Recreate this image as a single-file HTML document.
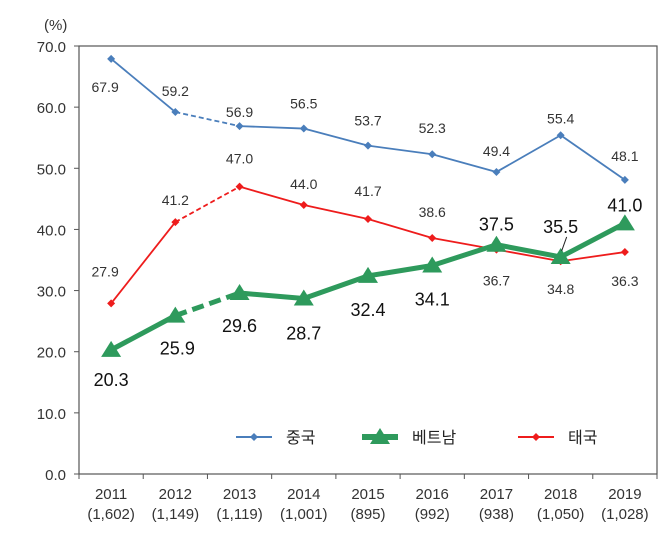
<!DOCTYPE html>
<html><head><meta charset="utf-8"><style>
body{margin:0;background:#fff;}
svg text{font-family:"Liberation Sans","Noto Sans CJK KR",sans-serif;}
</style></head><body>
<svg width="670" height="533" xmlns="http://www.w3.org/2000/svg">
<g id="axes"></g><g id="marks"></g><g id="labels"></g>
</svg>
<script>
const years=["2011","2012","2013","2014","2015","2016","2017","2018","2019"];
const counts=["(1,602)","(1,149)","(1,119)","(1,001)","(895)","(992)","(938)","(1,050)","(1,028)"];
const yTicks=[0,10,20,30,40,50,60,70];
const china=[67.9,59.2,56.9,56.5,53.7,52.3,49.4,55.4,48.1];
const vietnam=[20.3,25.9,29.6,28.7,32.4,34.1,37.5,35.5,41.0];
const thailand=[27.9,41.2,47.0,44.0,41.7,38.6,36.7,34.8,36.3];
const chinaOff=[[-6,27],[0,-22],[0,-15],[0,-26],[0,-26],[0,-27],[0,-22],[0,-18],[0,-25]];
const thaiOff=[[-6,-33],[0,-23],[0,-29],[0,-22],[0,-29],[0,-27],[0,30],[0,27],[0,28]];
const vietOff=[[0,30],[2,33],[0,33],[0,35],[0,34],[0,34],[0,-20],[0,-30],[0,-18]];
const NS="http://www.w3.org/2000/svg";
const L=79,R=657,T=46,B=474;
const step=(R-L)/years.length;
const x=i=>L+step*(i+0.5);
const y=v=>B-(v/70)*(B-T);
function mk(tag,at,parent){const e=document.createElementNS(NS,tag);for(const k in at)e.setAttribute(k,at[k]);document.getElementById(parent).appendChild(e);return e;}
let f=mk('rect',{x:L,y:T,width:R-L,height:B-T,fill:'none',stroke:'#555','stroke-width':1.2},'axes');


yTicks.forEach(v=>{
 let t=mk('text',{x:L-13,y:y(v)+6,'text-anchor':'end','font-size':15,fill:'#333'},'axes');t.textContent=v.toFixed(1);
 
 
 mk('line',{x1:L-5,x2:L,y1:y(v),y2:y(v),stroke:'#555'},'axes');
});
let u=mk('text',{x:44,y:30,'font-size':15,fill:'#333'},'axes');u.textContent='(%)';


for(let i=0;i<=years.length;i++)mk('line',{x1:L+step*i,x2:L+step*i,y1:B,y2:B+5,stroke:'#555'},'axes');
years.forEach((yr,i)=>{
 let t=mk('text',{x:x(i),y:499,'text-anchor':'middle','font-size':15,fill:'#333'},'axes');t.textContent=yr;
 
 
 let c=mk('text',{x:x(i),y:519,'text-anchor':'middle','font-size':15,fill:'#333'},'axes');c.textContent=counts[i];
 
 
});
function series(vals,color,w,name,marker,off,fs,dark){
 for(let i=0;i<vals.length-1;i++){
  let l=mk('line',{x1:x(i),y1:y(vals[i]),x2:x(i+1),y2:y(vals[i+1]),stroke:color,'stroke-width':w},'marks');
  if(i===1)l.setAttribute('stroke-dasharray',w>3?'12,6':'5,3');
  
  
 }
 vals.forEach((v,i)=>{
  let m;
  const cx=x(i),cy=y(v);
  if(marker==='tri'){m=mk('polygon',{points:`${cx},${cy-9} ${cx-10},${cy+7} ${cx+10},${cy+7}`,fill:color},'marks');}
  else{m=mk('polygon',{points:`${cx},${cy-4} ${cx+4},${cy} ${cx},${cy+4} ${cx-4},${cy}`,fill:color},'marks');}
  
  
  let t=mk('text',{x:cx+off[i][0],y:cy+off[i][1]+6,'text-anchor':'middle','font-size':fs,fill:dark?'#111':'#333'},'labels');
  t.textContent=v.toFixed(1);
  
  
 });
}
series(china,'#4a7ebb',1.8,'china','dia',chinaOff,14,false);
series(thailand,'#ee1c1c',1.8,'thailand','dia',thaiOff,14,false);
series(vietnam,'#2e9a5c',5,'vietnam','tri',vietOff,18,true);
let ld=mk('line',{x1:x(7)+1,y1:y(vietnam[7])-6,x2:x(7)+6,y2:y(vietnam[7])-20,stroke:'#222','stroke-width':1},'labels');


function leg(x1,color,w,marker,label,name){
 mk('line',{x1:x1,x2:x1+36,y1:437,y2:437,stroke:color,'stroke-width':w},'labels');
 const cx=x1+18;
 let m=marker==='tri'?mk('polygon',{points:`${cx},${428} ${cx-10},${444} ${cx+10},${444}`,fill:color},'labels'):mk('polygon',{points:`${cx},433 ${cx+4},437 ${cx},441 ${cx-4},437`,fill:color},'labels');
 
 
 let t=mk('text',{x:x1+50,y:443,'font-size':16,fill:'#222'},'labels');t.textContent=label;
 
 
}
leg(236,'#4a7ebb',2,'dia','중국','china');
leg(362,'#2e9a5c',6,'tri','베트남','vietnam');
leg(518,'#ee1c1c',2,'dia','태국','thailand');
</script>
</body></html>
